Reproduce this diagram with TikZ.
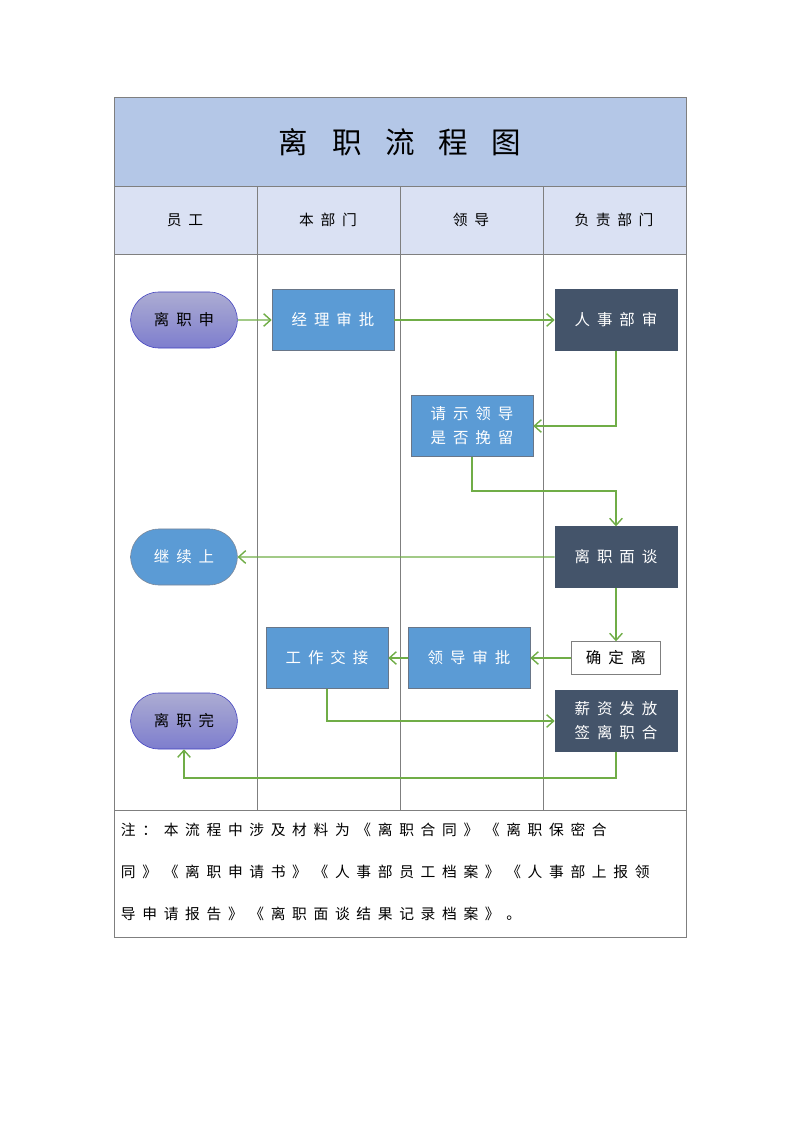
\documentclass[tikz,border=0pt]{standalone}
\usepackage{fontspec}
\newfontfamily\cjk[LetterSpace=45]{Noto Sans CJK SC}
\newfontfamily\cjkwide[LetterSpace=80]{Noto Sans CJK SC}
\usetikzlibrary{arrows.meta,positioning,shapes.misc}
\definecolor{titlefill}{HTML}{B4C7E7}
\definecolor{headfill}{HTML}{DAE1F3}
\definecolor{gridline}{HTML}{7F7F7F}
\definecolor{midblue}{HTML}{5B9BD5}
\definecolor{darkslate}{HTML}{44546A}
\definecolor{flowgreen}{HTML}{70AD47}
\tikzset{
  proc/.style={rectangle, draw=darkslate!80, fill=midblue, text=white, minimum width=3.05cm, minimum height=1.52cm, align=center, font=\cjk\fontsize{11}{17}\selectfont},
  hrbox/.style={proc, fill=darkslate, draw=darkslate},
  endcap/.style={rounded rectangle, draw=blue!50!gray, top color=blue!30!gray!50, bottom color=blue!45!gray!70, minimum width=2.9cm, minimum height=1.4cm, font=\cjk\fontsize{11}{13}\selectfont},
  line/.style={draw=flowgreen, line width=1pt, -{Straight Barb[length=5pt,width=9pt]}},
  lane/.style={draw=gridline, line width=0.6pt}
}
\begin{document}
\begin{tikzpicture}[x=0.025cm, y=-0.025cm]
\useasboundingbox (0,0) rectangle (800,1131);

% table frame
\fill[titlefill] (114,97) rectangle (686,186);
\fill[headfill] (114,186) rectangle (686,254);
\draw[lane] (114,97) rectangle (686,937);
\draw[lane] (114,186) -- (686,186);
\draw[lane] (114,254) -- (686,254);
\draw[lane] (114,810) -- (686,810);
\foreach \x in {257,400,543} \draw[lane] (\x,186) -- (\x,810);

\node (title) at (400,142) {\cjkwide\fontsize{21}{25}\selectfont 离职流程图};
\node (lane1) at (185,220) {\cjk\fontsize{10.5}{12}\selectfont 员工};
\node (lane2) at (328,220) {\cjk\fontsize{10.5}{12}\selectfont 本部门};
\node (lane3) at (471,220) {\cjk\fontsize{10.5}{12}\selectfont 领导};
\node (lane4) at (614,220) {\cjk\fontsize{10.5}{12}\selectfont 负责部门};

% flow nodes
\node (apply) [endcap] at (184,320) {离职申};
\node (mgr) [proc] at (333,320) {经理审批};
\node (hr) [hrbox] at (616,320) {人事部审};
\node (ask) [proc] at (472,426) {请示领导\\是否挽留};
\node (talk) [hrbox] at (616,557) {离职面谈};
\node (stay) [endcap, top color=midblue, bottom color=midblue, draw=darkslate!70, text=white] at (184,557) {继续上};
\node (confirm) [rectangle, draw=gridline, fill=white, minimum width=2.22cm, minimum height=0.82cm, font=\cjk\fontsize{11}{13}\selectfont] at (616,658) {确定离};
\node (lead) [proc] at (469,658) {领导审批};
\node (handover) [proc] at (327,658) {工作交接};
\node (pay) [hrbox] at (616,721) {薪资发放\\签离职合};
\node (done) [endcap] at (184,721) {离职完};

% connectors
\path [line] (apply) -- (mgr);
\path [line] (mgr) -- (hr);
\path [line] (hr.south) |- (ask.east);
\path [line] (ask.south) |- (616,491) -- (talk.north);
\path [line] (talk) -- (stay);
\path [line] (talk) -- (confirm);
\path [line] (confirm) -- (lead);
\path [line] (lead) -- (handover);
\path [line] (handover.south) |- (pay.west);
\path [line] (pay.south) |- (184,778) -- (done.south);

% note
\node (note) [anchor=north west, align=left, font=\cjk\fontsize{10.5}{30}\selectfont] at (116,818)
  {注：本流程中涉及材料为《离职合同》《离职保密合\\同》《离职申请书》《人事部员工档案》《人事部上报领\\导申请报告》《离职面谈结果记录档案》。};
\end{tikzpicture}
\end{document}
